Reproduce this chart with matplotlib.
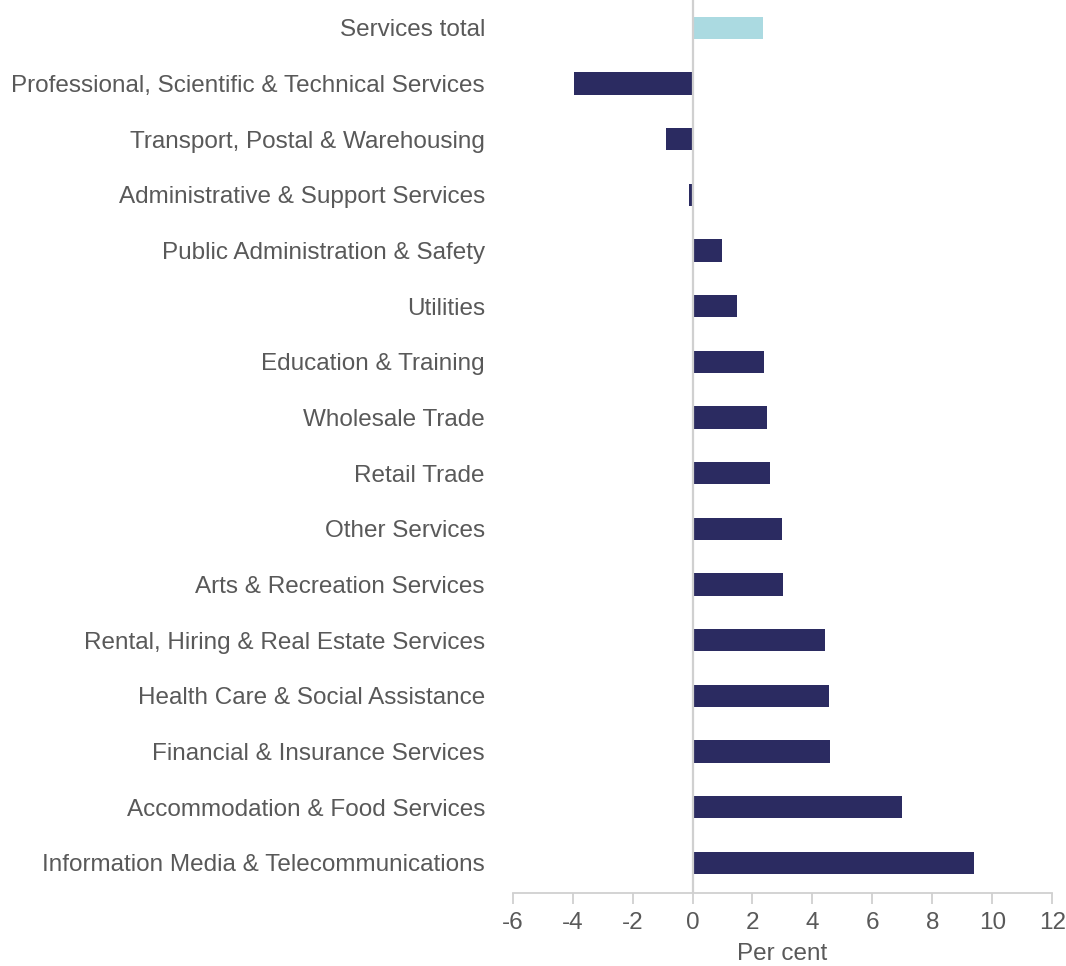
import matplotlib.pyplot as plt

plt.rcParams['font.family'] = ['Liberation Sans', 'DejaVu Sans']

industries = [
    'Services total',
    'Professional, Scientific & Technical Services',
    'Transport, Postal & Warehousing',
    'Administrative & Support Services',
    'Public Administration & Safety',
    'Utilities',
    'Education & Training',
    'Wholesale Trade',
    'Retail Trade',
    'Other Services',
    'Arts & Recreation Services',
    'Rental, Hiring & Real Estate Services',
    'Health Care & Social Assistance',
    'Financial & Insurance Services',
    'Accommodation & Food Services',
    'Information Media & Telecommunications',
]
growth = [2.35, -3.97, -0.9, -0.13, 0.97, 1.47, 2.4, 2.47, 2.6, 2.97, 3.03,
          4.41, 4.54, 4.6, 6.99, 9.39]
xticks = [-6, -4, -2, 0, 2, 4, 6, 8, 10, 12]

text_col = '#595959'
grey = '#d0d0d0'
colors = ['#ABDAE1'] + ['#2B2B61'] * (len(industries) - 1)

fig = plt.figure(figsize=(10.66, 9.66), dpi=100)
ax = fig.add_axes([0.481, 0.0756, 0.506, 0.9244])

pos = list(range(len(industries)))
ax.barh(pos, growth, height=0.4, color=colors, zorder=2)
ax.axvline(0, color=grey, lw=1.6, zorder=3)

ax.set_ylim(15.54, -0.5)
ax.set_xlim(-6, 12)
ax.set_xticks(xticks)
ax.set_xticklabels([str(t) for t in xticks])
ax.set_yticks(pos)
ax.set_yticklabels(industries)

for s in ['top', 'right', 'left']:
    ax.spines[s].set_visible(False)
ax.spines['bottom'].set_color(grey)
ax.spines['bottom'].set_linewidth(1.3)

fs = 17.5
ax.tick_params(axis='y', length=0, pad=20, labelsize=fs, labelcolor=text_col)
ax.tick_params(axis='x', length=8, width=1.3, color=grey, pad=6,
               labelsize=fs, labelcolor=text_col)
ax.set_xlabel('Per cent', fontsize=fs, color=text_col, labelpad=6)

fig.savefig('out.png', dpi=100)
